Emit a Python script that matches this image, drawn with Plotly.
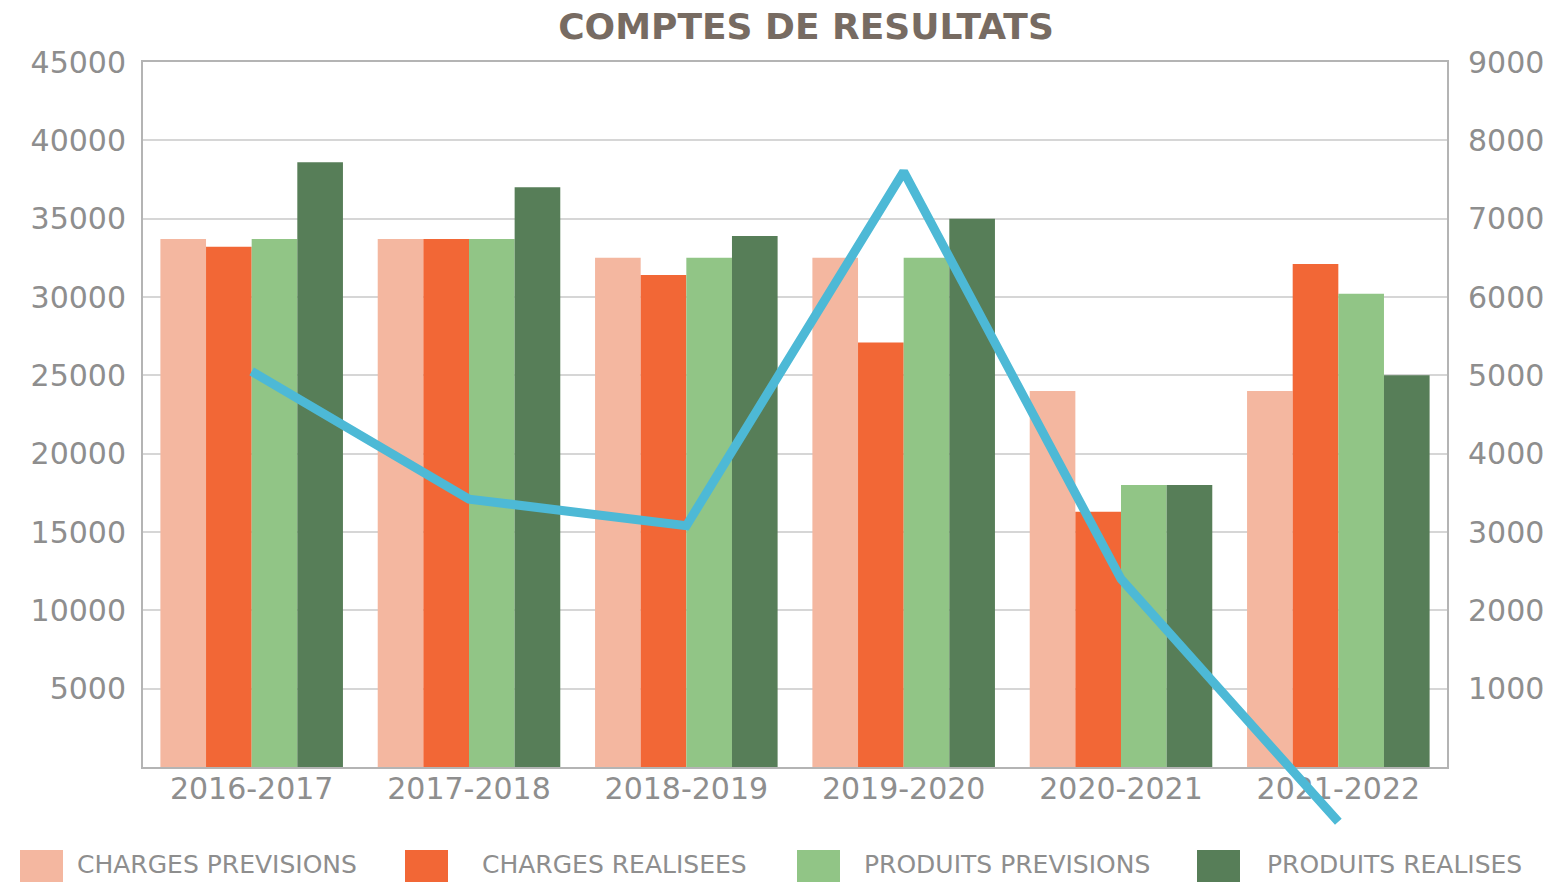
import plotly.graph_objects as go

# ---------------- data ----------------
categories = ["2016-2017", "2017-2018", "2018-2019", "2019-2020", "2020-2021", "2021-2022"]
charges_previsions = [33700, 33700, 32500, 32500, 24000, 24000]
charges_realisees = [33200, 33700, 31400, 27100, 16300, 32100]
produits_previsions = [33700, 33700, 32500, 32500, 18000, 30200]
produits_realises = [38600, 37000, 33900, 35000, 18000, 25000]
resultat = [5050, 3420, 3080, 7600, 2400, -700]

series_names = ["CHARGES PREVISIONS", "CHARGES REALISEES", "PRODUITS PREVISIONS", "PRODUITS REALISES"]
series_values = [charges_previsions, charges_realisees, produits_previsions, produits_realises]
series_colors = ["#F4B7A0", "#F26736", "#91C586", "#577E58"]
line_color = "#4DB9D6"

left_ticks = [5000, 10000, 15000, 20000, 25000, 30000, 35000, 40000, 45000]
right_ticks = [1000, 2000, 3000, 4000, 5000, 6000, 7000, 8000, 9000]

# ---------------- layout geometry (pixels) ----------------
FW, FH = 1560, 882
ML, MR, MT, MB = 143, 113, 62, 40
PLOT_BOTTOM = 767  # pixel y of the value-0 baseline
W = FW - ML - MR
H = FH - MT - MB
bottom_px = FH - MB
main_dom0 = (bottom_px - PLOT_BOTTOM) / H
left_max = 45000
right_max = 9000
# extended range so the line can go below the baseline
right_min = -(bottom_px - PLOT_BOTTOM) * right_max / (PLOT_BOTTOM - MT)


def px_x(px):
    return (px - ML) / W


def px_y(py):
    return (bottom_px - py) / H


tick_font = dict(family="DejaVu Sans", size=30, color="#8E8E8E")

fig = go.Figure()
for name, vals, col in zip(series_names, series_values, series_colors):
    fig.add_trace(go.Bar(x=categories, y=vals, name=name, marker=dict(color=col, line=dict(width=0)),
                         xaxis="x", yaxis="y", showlegend=False))

fig.add_trace(go.Scatter(x=categories, y=resultat, mode="lines", name="RESULTAT",
                         line=dict(color=line_color, width=9), xaxis="x2", yaxis="y3",
                         showlegend=False))

fig.update_layout(
    width=FW, height=FH,
    margin=dict(l=ML, r=MR, t=MT, b=MB, pad=0),
    paper_bgcolor="white", plot_bgcolor="rgba(0,0,0,0)",
    barmode="group", bargap=0.16, bargroupgap=0,
    title=dict(text="<b>COMPTES DE RESULTATS</b>", x=806 / FW, xanchor="center",
               y=1 - 26 / FH, yanchor="middle", xref="container", yref="container",
               font=dict(family="DejaVu Sans", size=36, color="#776B62")),
    xaxis=dict(domain=[0, 1], anchor="y", type="category", range=[-0.5, 5.5],
               showline=True, linecolor="#B4B4B4", linewidth=2, mirror=True,
               showgrid=False, ticks="", tickfont=tick_font, ticklabelstandoff=-6),
    yaxis=dict(domain=[main_dom0, 1], anchor="x", range=[0, left_max],
               tickvals=left_ticks, ticktext=[str(v) for v in left_ticks],
               showline=True, linecolor="#B4B4B4", linewidth=2, mirror=True,
               showgrid=True, gridcolor="#D6D6D6", gridwidth=2, zeroline=False,
               ticks="", tickfont=tick_font, ticklabelstandoff=9),
    xaxis2=dict(domain=[0, 1], anchor="y3", type="category", range=[-0.5, 5.5],
                visible=False),
    yaxis3=dict(domain=[0, 1], anchor="x2", side="right", range=[right_min, right_max],
                tickvals=right_ticks, ticktext=[str(v) for v in right_ticks],
                showline=False, showgrid=False, zeroline=False, ticks="",
                tickfont=tick_font, ticklabelstandoff=20),
)

# ---------------- custom legend ----------------
legend_sq_x = [20, 405, 797, 1197]
legend_txt_x = [75, 480, 862, 1265]
shapes = []
annotations = []
for name, col, sx, tx in zip(series_names, series_colors, legend_sq_x, legend_txt_x):
    shapes.append(dict(type="rect", xref="paper", yref="paper",
                       x0=px_x(sx), x1=px_x(sx + 43), y0=px_y(850), y1=px_y(895),
                       fillcolor=col, line=dict(width=0), layer="above"))
    annotations.append(dict(text=name, xref="paper", yref="paper", x=px_x(tx), y=px_y(865),
                            xanchor="left", yanchor="middle", showarrow=False,
                            font=dict(family="DejaVu Sans", size=25, color="#8E8E8E")))
fig.update_layout(shapes=shapes, annotations=annotations)

fig.write_html("out.html")
